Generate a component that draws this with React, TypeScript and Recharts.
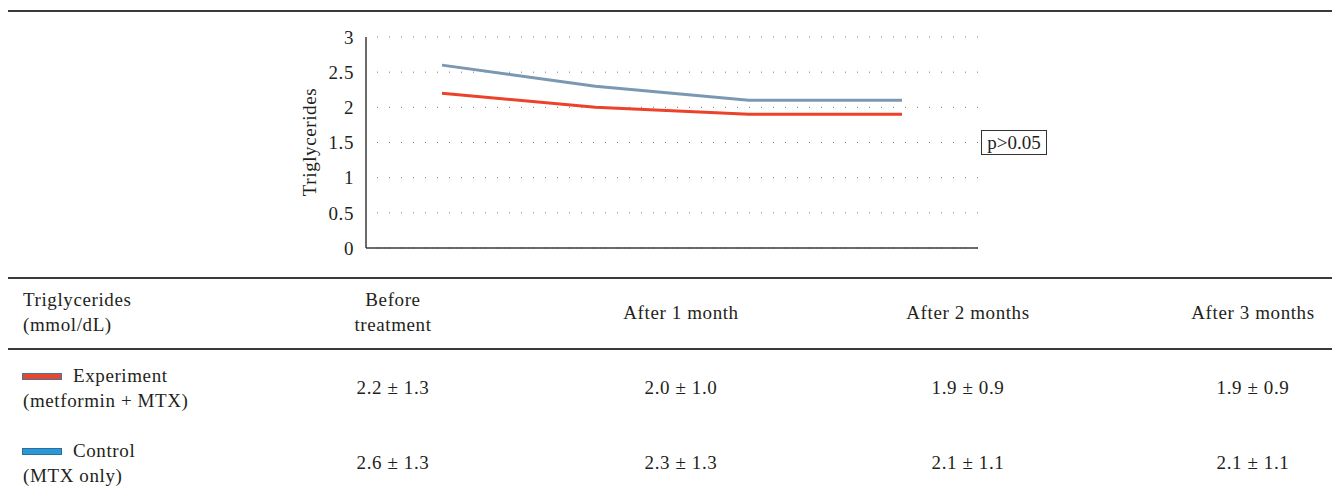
import React from 'react';
import { LineChart, Line, XAxis, YAxis, CartesianGrid } from 'recharts';

const categories = ['Before treatment', 'After 1 month', 'After 2 months', 'After 3 months'];
const experimentValues = [2.2, 2.0, 1.9, 1.9];
const controlValues = [2.6, 2.3, 2.1, 2.1];
const experimentLabels = ['2.2 ± 1.3', '2.0 ± 1.0', '1.9 ± 0.9', '1.9 ± 0.9'];
const controlLabels = ['2.6 ± 1.3', '2.3 ± 1.3', '2.1 ± 1.1', '2.1 ± 1.1'];
const yTicks = [0, 0.5, 1, 1.5, 2, 2.5, 3];
const headerLines = [['Before', 'treatment'], ['After 1 month'], ['After 2 months'], ['After 3 months']];

const data = categories.map((c, i) => ({
  name: c,
  experiment: experimentValues[i],
  control: controlValues[i],
}));

const FONT = '"Liberation Serif", "Times New Roman", serif';
const TEXT = '#231f20';
const FS = 19;
const LS = 0.6;
const colCenters = [393, 681, 968, 1253];

const abs = (s: React.CSSProperties): React.CSSProperties => ({ position: 'absolute', ...s });

export default function App() {
  return (
    <div style={{ position: 'fixed', left: 0, top: 0, width: 1332, height: 492, overflow: 'hidden', background: '#fff', fontFamily: FONT, color: TEXT, letterSpacing: LS }}>
      {/* top rule */}
      <div style={abs({ left: 8, top: 10, width: 1324, height: 2, background: '#3a3a3a' })} />
      <div style={abs({ left: 0, top: 0 })}>
        <LineChart width={1332} height={270} data={data} margin={{ top: 37, right: 354, bottom: 2, left: 306 }}>
          <CartesianGrid vertical={false} stroke="#7a7a7a" strokeDasharray="0 11 1 0" />
          <XAxis dataKey="name" tick={false} tickLine={false} height={20} padding={{ left: 76, right: 76 }} axisLine={{ stroke: '#3a3a3a', strokeWidth: 1.5 }} />
          <YAxis
            width={60}
            domain={[0, 3]}
            ticks={yTicks}
            interval={0}
            tickLine={false}
            tickSize={0}
            tickMargin={12}
            axisLine={{ stroke: '#3a3a3a', strokeWidth: 1.5 }}
            tick={{ fill: TEXT, fontSize: FS, fontFamily: FONT }}
          />
          <Line type="linear" dataKey="control" stroke="#7b98b3" strokeWidth={3} dot={false} isAnimationActive={false} />
          <Line type="linear" dataKey="experiment" stroke="#ec412b" strokeWidth={3} dot={false} isAnimationActive={false} />
        </LineChart>
      </div>
      {/* y axis label */}
      <div style={abs({ left: 310, top: 142, fontSize: FS, transform: 'translate(-50%, -50%) rotate(-90deg)', whiteSpace: 'nowrap', lineHeight: '22px' })}>
        Triglycerides
      </div>
      {/* p value box */}
      <div style={abs({ left: 981, top: 130, width: 64, height: 23, border: '1px solid #333', fontSize: FS, lineHeight: '23px', textAlign: 'center', letterSpacing: 0 })}>
        p&gt;0.05
      </div>
      {/* table rules */}
      <div style={abs({ left: 8, top: 277, width: 1324, height: 1.5, background: '#3a3a3a' })} />
      <div style={abs({ left: 8, top: 348, width: 1324, height: 1.5, background: '#3a3a3a' })} />
      {/* header first column */}
      <div style={abs({ left: 23, top: 287, fontSize: FS, lineHeight: '25px' })}>
        Triglycerides<br />(mmol/dL)
      </div>
      {headerLines.map((lines, i) => (
        <div key={i} style={abs({ left: colCenters[i] - 100, width: 200, top: 312 - lines.length * 12.5, fontSize: FS, lineHeight: '25px', textAlign: 'center' })}>
          {lines.map((l, j) => (<div key={j}>{l}</div>))}
        </div>
      ))}
      {/* Experiment row */}
      <div style={abs({ left: 22, top: 373, width: 38, height: 5, background: '#e8472b', border: '1px solid #3d78a6' })} />
      <div style={abs({ left: 23, top: 363, fontSize: FS, lineHeight: '25px' })}>
        <span style={{ marginLeft: 50 }}>Experiment</span><br />(metformin + MTX)
      </div>
      {experimentLabels.map((t, i) => (
        <div key={i} style={abs({ left: colCenters[i] - 100, width: 200, top: 375, fontSize: FS, lineHeight: '25px', textAlign: 'center' })}>{t}</div>
      ))}
      {/* Control row */}
      <div style={abs({ left: 22, top: 448, width: 38, height: 5, background: '#2a98d4', border: '1px solid #2b6e9e' })} />
      <div style={abs({ left: 23, top: 438, fontSize: FS, lineHeight: '25px' })}>
        <span style={{ marginLeft: 50 }}>Control</span><br />(MTX only)
      </div>
      {controlLabels.map((t, i) => (
        <div key={i} style={abs({ left: colCenters[i] - 100, width: 200, top: 450, fontSize: FS, lineHeight: '25px', textAlign: 'center' })}>{t}</div>
      ))}
    </div>
  );
}
